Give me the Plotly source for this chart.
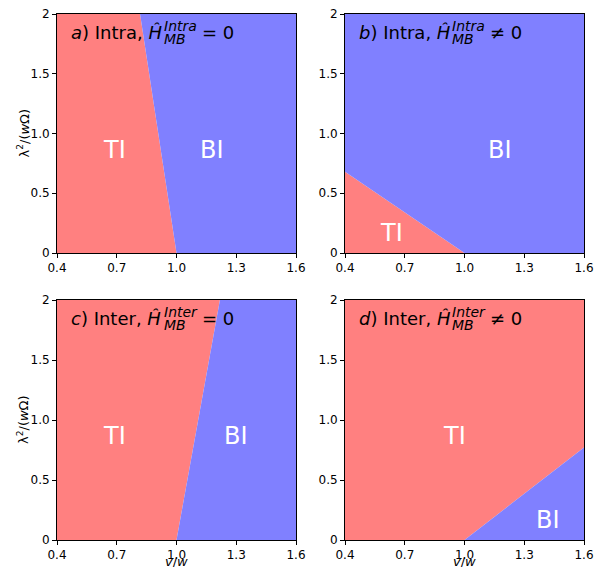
import plotly.graph_objects as go

W, H = 602, 567
RED = "#ff8080"
BLUE = "#8080ff"

x_range = [0.4, 1.6]
y_range = [0.0, 2.0]
x_ticks = [0.4, 0.7, 1.0, 1.3, 1.6]
x_ticktext = ["0.4", "0.7", "1.0", "1.3", "1.6"]
y_ticks = [0, 0.5, 1.0, 1.5, 2.0]
y_ticktext = ["0", "0.5", "1.0", "1.5", "2"]
x_title = "<i>v</i>/<i>w</i>"
y_title = "λ<sup>2</sup>/(<i>w</i>Ω)"

# phase boundaries
bnd_a_x = [1.0, 0.817]; bnd_a_y = [0.0, 2.0]
bnd_b_x = [0.4, 1.0];   bnd_b_y = [0.68, 0.0]
bnd_c_x = [1.0, 1.218]; bnd_c_y = [0.0, 2.0]
bnd_d_x = [1.0, 1.6];   bnd_d_y = [0.0, 0.77]

# label positions
labels_a = [("TI", 0.69, 0.86), ("BI", 1.18, 0.86)]
labels_b = [("BI", 1.18, 0.86), ("TI", 0.635, 0.17)]
labels_c = [("TI", 0.69, 0.87), ("BI", 1.30, 0.87)]
labels_d = [("TI", 0.95, 0.87), ("BI", 1.42, 0.17)]

titles = [
    ("a", "Intra", "= 0"),
    ("b", "Intra", "≠ 0"),
    ("c", "Inter", "= 0"),
    ("d", "Inter", "≠ 0"),
]

# panel pixel boxes: (x0, x1, ytop, ybottom)
boxes = [(57, 296, 14, 253), (345, 584, 14, 253), (57, 296, 300, 540), (345, 584, 300, 540)]

fig = go.Figure()

def px2x(p):
    return p / W

def px2y(p):
    return 1 - p / H

polys = []
polys.append((
    [x_range[0], bnd_a_x[0], bnd_a_x[1], x_range[0]], [y_range[0], bnd_a_y[0], bnd_a_y[1], y_range[1]],
    [bnd_a_x[0], x_range[1], x_range[1], bnd_a_x[1]], [bnd_a_y[0], y_range[0], y_range[1], bnd_a_y[1]],
))
polys.append((
    [x_range[0], bnd_b_x[1], bnd_b_x[0]], [y_range[0], bnd_b_y[1], bnd_b_y[0]],
    [bnd_b_x[0], bnd_b_x[1], x_range[1], x_range[1], x_range[0]], [bnd_b_y[0], bnd_b_y[1], y_range[0], y_range[1], y_range[1]],
))
polys.append((
    [x_range[0], bnd_c_x[0], bnd_c_x[1], x_range[0]], [y_range[0], bnd_c_y[0], bnd_c_y[1], y_range[1]],
    [bnd_c_x[0], x_range[1], x_range[1], bnd_c_x[1]], [bnd_c_y[0], y_range[0], y_range[1], bnd_c_y[1]],
))
polys.append((
    [x_range[0], bnd_d_x[0], bnd_d_x[1], x_range[1], x_range[0]], [y_range[0], bnd_d_y[0], bnd_d_y[1], y_range[1], y_range[1]],
    [bnd_d_x[0], x_range[1], bnd_d_x[1]], [bnd_d_y[0], y_range[0], bnd_d_y[1]],
))

all_labels = [labels_a, labels_b, labels_c, labels_d]

for i, (box, poly, labs) in enumerate(zip(boxes, polys, all_labels)):
    n = i + 1
    xa = "x" if n == 1 else f"x{n}"
    ya = "y" if n == 1 else f"y{n}"
    rx, ry, bx, by = poly
    fig.add_trace(go.Scatter(x=rx, y=ry, fill="toself", fillcolor=RED, mode="lines",
                             line=dict(width=0, color=RED), xaxis=xa, yaxis=ya,
                             showlegend=False, hoverinfo="skip"))
    fig.add_trace(go.Scatter(x=bx, y=by, fill="toself", fillcolor=BLUE, mode="lines",
                             line=dict(width=0, color=BLUE), xaxis=xa, yaxis=ya,
                             showlegend=False, hoverinfo="skip"))
    for t, lx, ly in labs:
        fig.add_annotation(x=lx, y=ly, xref=xa, yref=ya, text=t, showarrow=False,
                           font=dict(family="DejaVu Sans", size=24, color="white"))
    x0, x1, yt, yb = box
    xkey = "xaxis" if n == 1 else f"xaxis{n}"
    ykey = "yaxis" if n == 1 else f"yaxis{n}"
    axcommon = dict(showgrid=False, zeroline=False, showline=True, mirror=True,
                    linecolor="black", linewidth=1, ticks="outside", ticklen=4,
                    tickcolor="black", automargin=False,
                    tickfont=dict(family="DejaVu Sans", size=12, color="black"))
    fig.update_layout({
        xkey: dict(domain=[px2x(x0), px2x(x1)], range=x_range, tickvals=x_ticks,
                   ticktext=x_ticktext, anchor=ya, **axcommon),
        ykey: dict(domain=[px2y(yb), px2y(yt)], range=y_range, tickvals=y_ticks,
                   ticktext=y_ticktext, anchor=xa, **axcommon),
    })
    if n in (1, 3):
        fig.add_annotation(x=px2x(23), y=px2y((yt + yb) / 2), xref="paper", yref="paper",
                           text=y_title, textangle=-90, showarrow=False,
                           xanchor="center", yanchor="middle",
                           font=dict(family="DejaVu Sans", size=13, color="black"))
    if n in (3, 4):
        fig.add_annotation(x=px2x((x0 + x1) / 2), y=px2y(561), xref="paper", yref="paper",
                           text=x_title, showarrow=False, xanchor="center", yanchor="middle",
                           font=dict(family="DejaVu Sans", size=13, color="black"))

    letter, sup, rel = titles[i]
    sx = x0 + 12
    cy = yt + 18
    tf = dict(family="DejaVu Sans", size=18, color="black")
    sf = dict(family="DejaVu Sans", size=14, color="black")
    fig.add_annotation(x=px2x(sx), y=px2y(cy), xref="paper", yref="paper", xanchor="left",
                       yanchor="middle", showarrow=False,
                       text=f"<i>{letter}</i>) {sup}, <i>Ĥ</i>", font=tf)
    fig.add_annotation(x=px2x(sx + 93), y=px2y(cy - 6), xref="paper", yref="paper", xanchor="left",
                       yanchor="middle", showarrow=False, text=f"<i>{sup}</i>", font=sf)
    fig.add_annotation(x=px2x(sx + 93), y=px2y(cy + 7), xref="paper", yref="paper", xanchor="left",
                       yanchor="middle", showarrow=False, text="<i>MB</i>", font=sf)
    fig.add_annotation(x=px2x(sx + 131), y=px2y(cy), xref="paper", yref="paper", xanchor="left",
                       yanchor="middle", showarrow=False, text=rel, font=tf)

fig.update_layout(width=W, height=H, margin=dict(l=0, r=0, t=0, b=0),
                  paper_bgcolor="white", plot_bgcolor="white", showlegend=False)

fig.write_html("out.html", config={"displayModeBar": False},
               post_script="document.body.style.margin='0';")
